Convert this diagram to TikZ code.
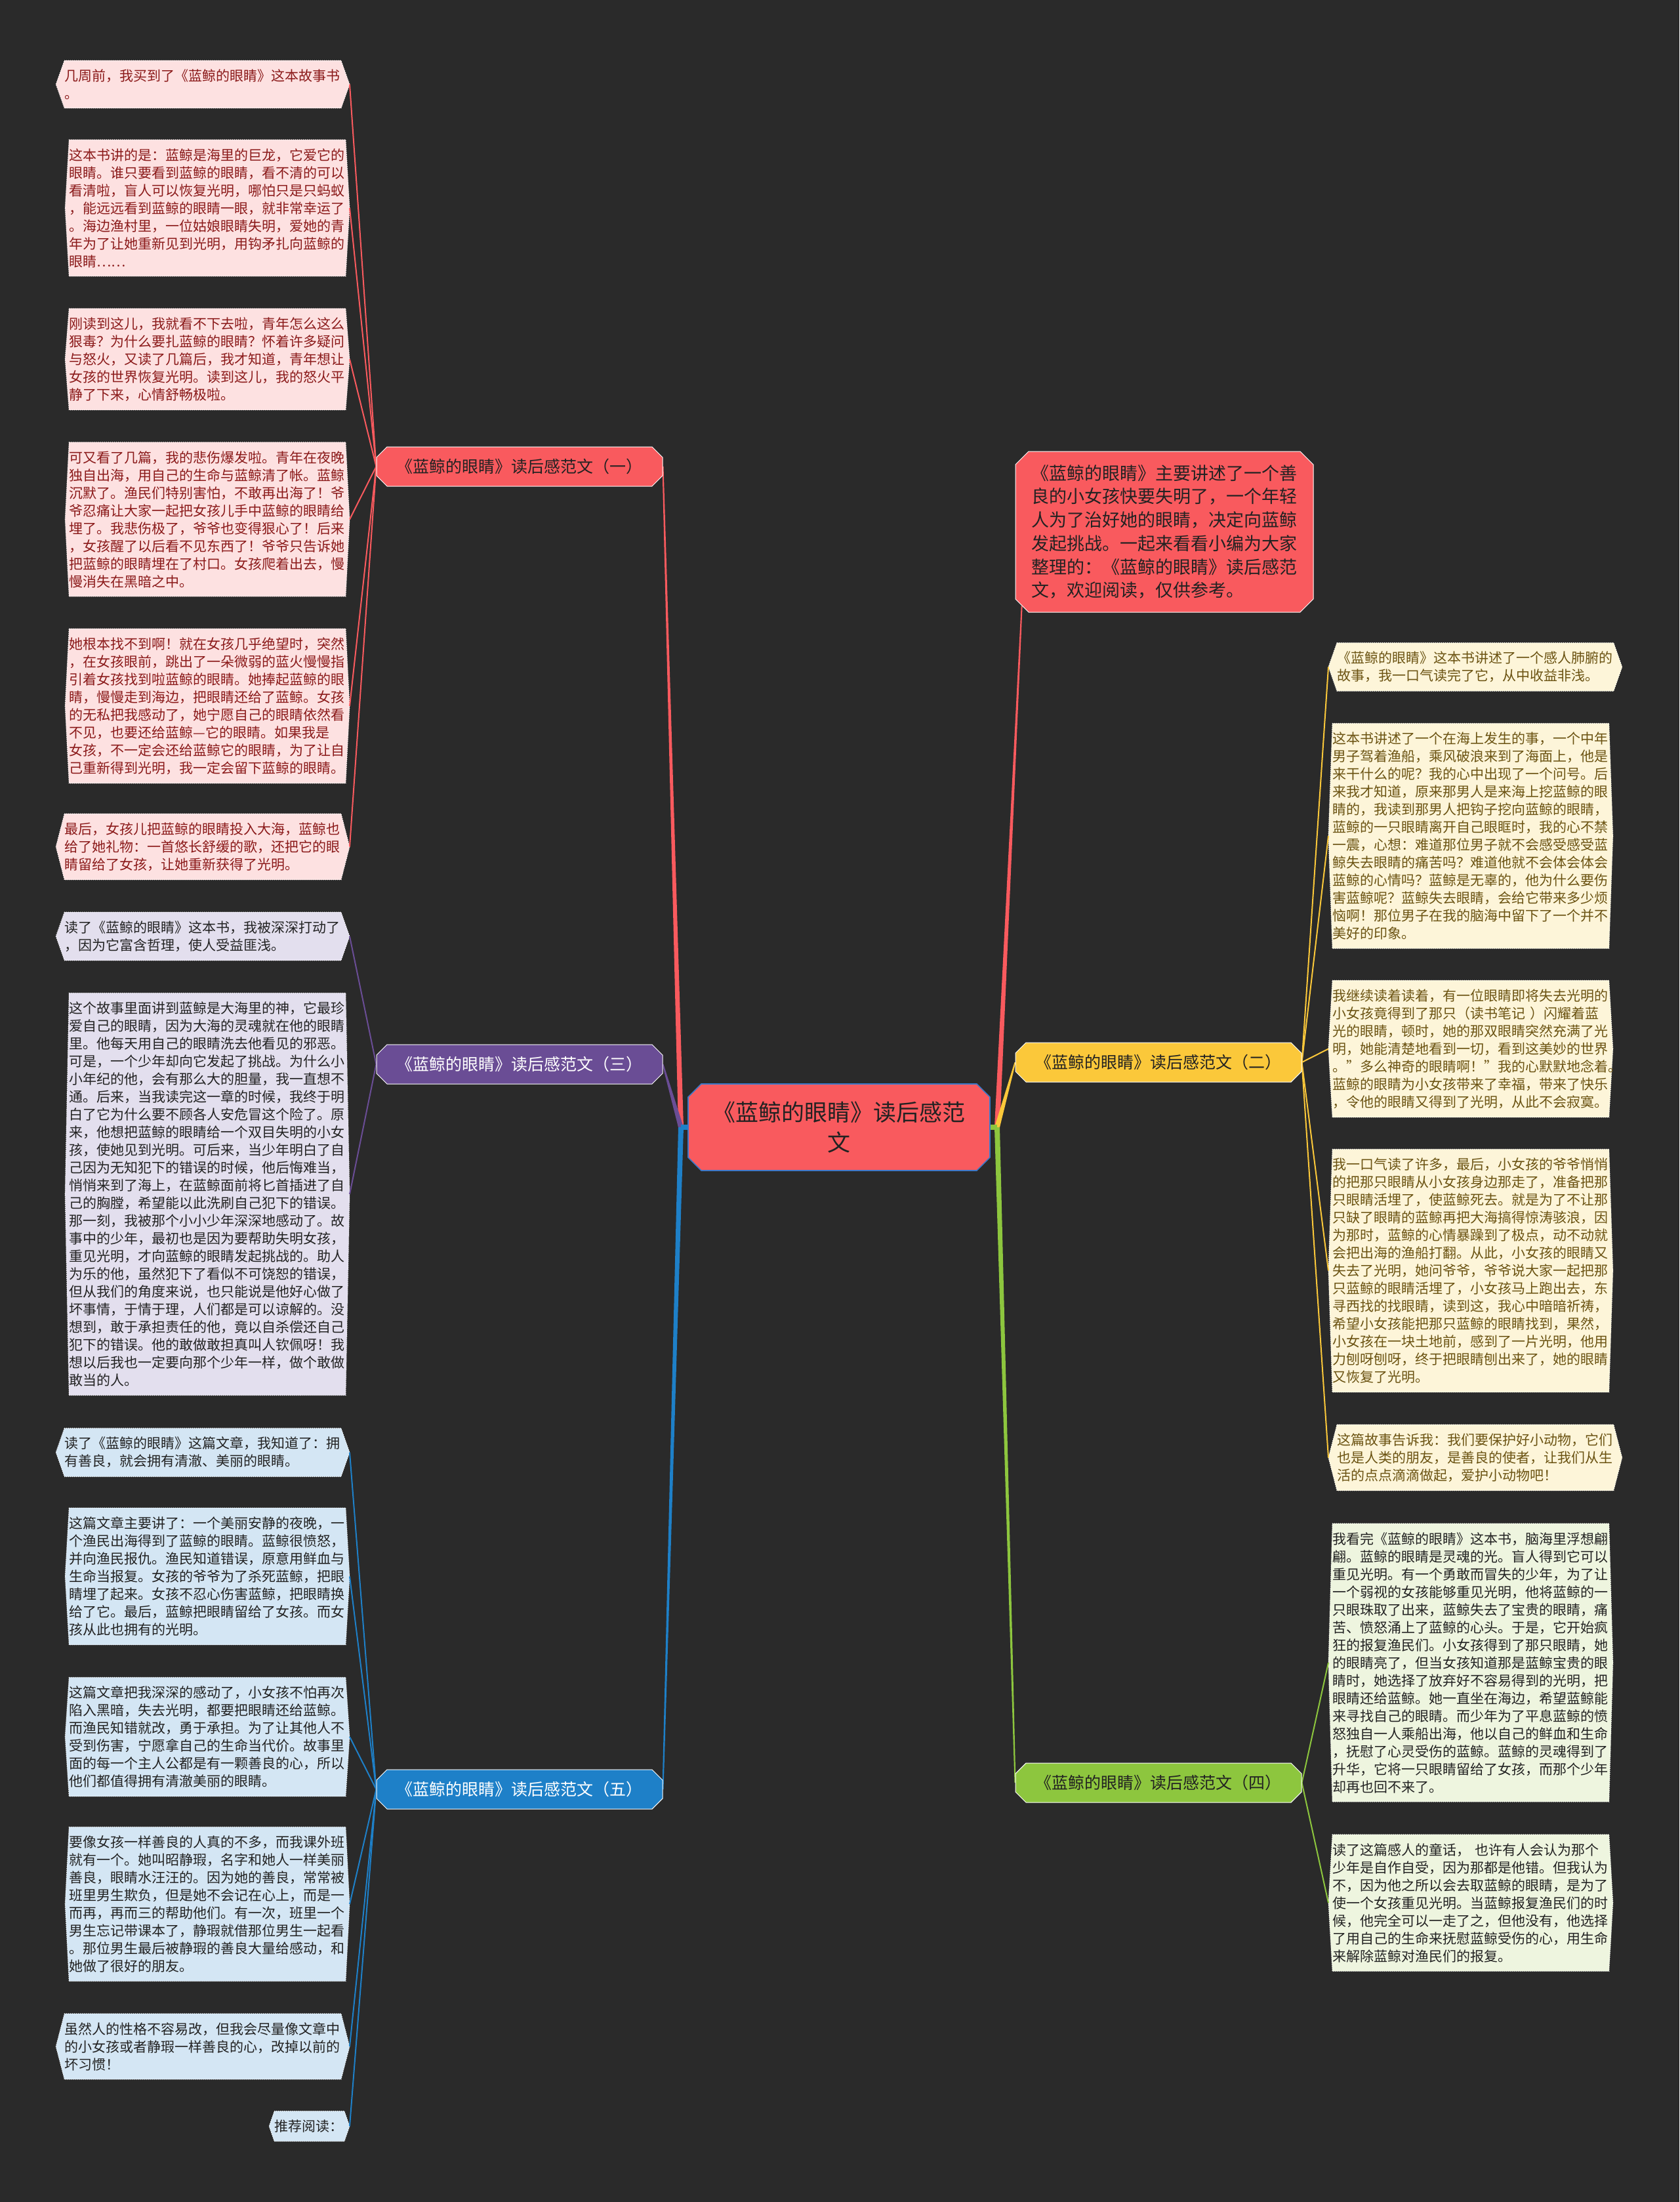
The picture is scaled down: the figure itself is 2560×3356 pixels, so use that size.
\documentclass[tikz,border=0pt]{standalone}
\usepackage{fontspec}
\setmainfont{Noto Sans CJK SC}
\usetikzlibrary{calc,shapes.misc}
\definecolor{bgc}{HTML}{2A2A2A}
\definecolor{redc}{HTML}{F95A5E}
\definecolor{purplec}{HTML}{6A4D95}
\definecolor{bluec}{HTML}{1E80C8}
\definecolor{yellowc}{HTML}{FBC83A}
\definecolor{greenc}{HTML}{8DC63E}
\definecolor{pinkfill}{HTML}{FDE1E1}
\definecolor{lavfill}{HTML}{E3DFEE}
\definecolor{skyfill}{HTML}{D4E6F4}
\definecolor{creamfill}{HTML}{FDF5D9}
\definecolor{mintfill}{HTML}{EEF5DF}
\definecolor{pinktxt}{HTML}{8B1A1A}
\definecolor{browntxt}{HTML}{6B5312}
\definecolor{darktxt}{HTML}{222222}
\definecolor{ctrline}{HTML}{3C78C8}
\pgfdeclarelayer{back}
\pgfsetlayers{back,main}
\newcommand\leaffont{\fontsize{10.5pt}{13.5pt}\selectfont}

\begin{document}
\begin{tikzpicture}[x=0.5pt, y=-0.5pt,
    leaf/.style={inner xsep=#1, inner ysep=6.5pt, text width=210.5pt, align=left, font=\leaffont},
    branch/.style={chamfered rectangle, chamfered rectangle xsep=4pt, chamfered rectangle ysep=4pt,
        minimum width=218pt, minimum height=30pt, inner sep=0pt, draw=white, line width=0.5pt,
        font=\fontsize{12.5pt}{15pt}\selectfont},
    leafedge/.style={draw=white, densely dotted, line width=0.5pt},
    twig/.style={line width=1pt}]
    \useasboundingbox (0,0) rectangle (2560,3356);
    \begin{pgfonlayer}{back}
        \fill[bgc] (0,0) rectangle (2560,3356);
    \end{pgfonlayer}

    % Centre and summary
    \node[chamfered rectangle, chamfered rectangle xsep=5pt, chamfered rectangle ysep=5pt,
        fill=redc, draw=ctrline, line width=0.8pt, minimum width=230pt, minimum height=66pt,
        inner sep=0pt, align=center, text=darktxt, font=\fontsize{17.5pt}{23pt}\selectfont]
        (ctr) at (1279,1718) {《蓝鲸的眼睛》读后感范\\文};
    \node[chamfered rectangle, chamfered rectangle xsep=5pt, chamfered rectangle ysep=5pt,
        fill=redc, draw=white, line width=0.5pt, minimum width=227pt, minimum height=122.5pt,
        inner sep=0pt, text width=203pt, align=left, text=darktxt,
        font=\fontsize{13.5pt}{17.85pt}\selectfont] (sum) at (1775,810.5)
        {《蓝鲸的眼睛》主要讲述了一个善\\良的小女孩快要失明了，一个年轻\\人为了治好她的眼睛，决定向蓝鲸\\发起挑战。一起来看看小编为大家\\整理的：《蓝鲸的眼睛》读后感范\\文，欢迎阅读，仅供参考。};

    % Branches
    \node[branch, fill=redc, text=darktxt] (b1) at (792,711) {《蓝鲸的眼睛》读后感范文（一）};
    \node[branch, fill=purplec, text=white] (b3) at (792,1622) {《蓝鲸的眼睛》读后感范文（三）};
    \node[branch, fill=bluec, text=white] (b5) at (792,2727) {《蓝鲸的眼睛》读后感范文（五）};
    \node[branch, fill=yellowc, text=darktxt] (b2) at (1766,1619) {《蓝鲸的眼睛》读后感范文（二）};
    \node[branch, fill=greenc, text=darktxt] (b4) at (1766,2717) {《蓝鲸的眼睛》读后感范文（四）};
    \coordinate (cl) at (1038,1718);
    \coordinate (cr) at (1520,1718);

    % Leaves of (一)
    \node[leaf=6.5pt, text=pinktxt, anchor=east] (l1) at (533,128.5)
        {几周前，我买到了《蓝鲸的眼睛》这本故事书\\。};
    \node[leaf=3pt, text=pinktxt, anchor=east] (l2) at (533,317)
        {这本书讲的是：蓝鲸是海里的巨龙，它爱它的\\眼睛。谁只要看到蓝鲸的眼睛，看不清的可以\\看清啦，盲人可以恢复光明，哪怕只是只蚂蚁\\，能远远看到蓝鲸的眼睛一眼，就非常幸运了\\。海边渔村里，一位姑娘眼睛失明，爱她的青\\年为了让她重新见到光明，用钩矛扎向蓝鲸的\\眼睛……};
    \node[leaf=3pt, text=pinktxt, anchor=east] (l3) at (533,547.5)
        {刚读到这儿，我就看不下去啦，青年怎么这么\\狠毒？为什么要扎蓝鲸的眼睛？怀着许多疑问\\与怒火，又读了几篇后，我才知道，青年想让\\女孩的世界恢复光明。读到这儿，我的怒火平\\静了下来，心情舒畅极啦。};
    \node[leaf=3pt, text=pinktxt, anchor=east] (l4) at (533,791.5)
        {可又看了几篇，我的悲伤爆发啦。青年在夜晚\\独自出海，用自己的生命与蓝鲸清了帐。蓝鲸\\沉默了。渔民们特别害怕，不敢再出海了！爷\\爷忍痛让大家一起把女孩儿手中蓝鲸的眼睛给\\埋了。我悲伤极了，爷爷也变得狠心了！后来\\，女孩醒了以后看不见东西了！爷爷只告诉她\\把蓝鲸的眼睛埋在了村口。女孩爬着出去，慢\\慢消失在黑暗之中。};
    \node[leaf=3pt, text=pinktxt, anchor=east] (l5) at (533,1076)
        {她根本找不到啊！就在女孩几乎绝望时，突然\\，在女孩眼前，跳出了一朵微弱的蓝火慢慢指\\引着女孩找到啦蓝鲸的眼睛。她捧起蓝鲸的眼\\睛，慢慢走到海边，把眼睛还给了蓝鲸。女孩\\的无私把我感动了，她宁愿自己的眼睛依然看\\不见，也要还给蓝鲸—它的眼睛。如果我是\\女孩，不一定会还给蓝鲸它的眼睛，为了让自\\己重新得到光明，我一定会留下蓝鲸的眼睛。};
    \node[leaf=6.5pt, text=pinktxt, anchor=east] (l6) at (533,1290.5)
        {最后，女孩儿把蓝鲸的眼睛投入大海，蓝鲸也\\给了她礼物：一首悠长舒缓的歌，还把它的眼\\睛留给了女孩，让她重新获得了光明。};

    % Leaves of (三)
    \node[leaf=6.5pt, text=darktxt, anchor=east] (l7) at (533,1427)
        {读了《蓝鲸的眼睛》这本书，我被深深打动了\\，因为它富含哲理，使人受益匪浅。};
    \node[leaf=3pt, text=darktxt, anchor=east] (l8) at (533,1820)
        {这个故事里面讲到蓝鲸是大海里的神，它最珍\\爱自己的眼睛，因为大海的灵魂就在他的眼睛\\里。他每天用自己的眼睛洗去他看见的邪恶。\\可是，一个少年却向它发起了挑战。为什么小\\小年纪的他，会有那么大的胆量，我一直想不\\通。后来，当我读完这一章的时候，我终于明\\白了它为什么要不顾各人安危冒这个险了。原\\来，他想把蓝鲸的眼睛给一个双目失明的小女\\孩，使她见到光明。可后来，当少年明白了自\\己因为无知犯下的错误的时候，他后悔难当，\\悄悄来到了海上，在蓝鲸面前将匕首插进了自\\己的胸膛，希望能以此洗刷自己犯下的错误。\\那一刻，我被那个小小少年深深地感动了。故\\事中的少年，最初也是因为要帮助失明女孩，\\重见光明，才向蓝鲸的眼睛发起挑战的。助人\\为乐的他，虽然犯下了看似不可饶恕的错误，\\但从我们的角度来说，也只能说是他好心做了\\坏事情，于情于理，人们都是可以谅解的。没\\想到，敢于承担责任的他，竟以自杀偿还自己\\犯下的错误。他的敢做敢担真叫人钦佩呀！我\\想以后我也一定要向那个少年一样，做个敢做\\敢当的人。};

    % Leaves of (五)
    \node[leaf=6.5pt, text=darktxt, anchor=east] (l9) at (533,2213.5)
        {读了《蓝鲸的眼睛》这篇文章，我知道了：拥\\有善良，就会拥有清澈、美丽的眼睛。};
    \node[leaf=3pt, text=darktxt, anchor=east] (l10) at (533,2402.5)
        {这篇文章主要讲了：一个美丽安静的夜晚，一\\个渔民出海得到了蓝鲸的眼睛。蓝鲸很愤怒，\\并向渔民报仇。渔民知道错误，原意用鲜血与\\生命当报复。女孩的爷爷为了杀死蓝鲸，把眼\\睛埋了起来。女孩不忍心伤害蓝鲸，把眼睛换\\给了它。最后，蓝鲸把眼睛留给了女孩。而女\\孩从此也拥有的光明。};
    \node[leaf=3pt, text=darktxt, anchor=east] (l11) at (533,2647)
        {这篇文章把我深深的感动了，小女孩不怕再次\\陷入黑暗，失去光明，都要把眼睛还给蓝鲸。\\而渔民知错就改，勇于承担。为了让其他人不\\受到伤害，宁愿拿自己的生命当代价。故事里\\面的每一个主人公都是有一颗善良的心，所以\\他们都值得拥有清澈美丽的眼睛。};
    \node[leaf=3pt, text=darktxt, anchor=east] (l12) at (533,2902)
        {要像女孩一样善良的人真的不多，而我课外班\\就有一个。她叫昭静瑕，名字和她人一样美丽\\善良，眼睛水汪汪的。因为她的善良，常常被\\班里男生欺负，但是她不会记在心上，而是一\\而再，再而三的帮助他们。有一次，班里一个\\男生忘记带课本了，静瑕就借那位男生一起看\\。那位男生最后被静瑕的善良大量给感动，和\\她做了很好的朋友。};
    \node[leaf=6.5pt, text=darktxt, anchor=east] (l13) at (533,3119)
        {虽然人的性格不容易改，但我会尽量像文章中\\的小女孩或者静瑕一样善良的心，改掉以前的\\坏习惯！};
    \node[leaf=4pt, text width=53pt, text=darktxt, anchor=east] (l14) at (533,3240.5) {推荐阅读：};

    % Leaves of (二)
    \node[leaf=6.5pt, text=browntxt, anchor=west] (r1) at (2025,1016.5)
        {《蓝鲸的眼睛》这本书讲述了一个感人肺腑的\\故事，我一口气读完了它，从中收益非浅。};
    \node[leaf=3pt, text=browntxt, anchor=west] (r2) at (2025,1274)
        {这本书讲述了一个在海上发生的事，一个中年\\男子驾着渔船，乘风破浪来到了海面上，他是\\来干什么的呢？我的心中出现了一个问号。后\\来我才知道，原来那男人是来海上挖蓝鲸的眼\\睛的，我读到那男人把钩子挖向蓝鲸的眼睛，\\蓝鲸的一只眼睛离开自己眼眶时，我的心不禁\\一震，心想：难道那位男子就不会感受感受蓝\\鲸失去眼睛的痛苦吗？难道他就不会体会体会\\蓝鲸的心情吗？蓝鲸是无辜的，他为什么要伤\\害蓝鲸呢？蓝鲸失去眼睛，会给它带来多少烦\\恼啊！那位男子在我的脑海中留下了一个并不\\美好的印象。};
    \node[leaf=3pt, text=browntxt, anchor=west] (r3) at (2025,1598.5)
        {我继续读着读着，有一位眼睛即将失去光明的\\小女孩竟得到了那只（读书笔记 ）闪耀着蓝\\光的眼睛，顿时，她的那双眼睛突然充满了光\\明，她能清楚地看到一切，看到这美妙的世界\\。"多么神奇的眼睛啊！"我的心默默地念着。\\蓝鲸的眼睛为小女孩带来了幸福，带来了快乐\\，令他的眼睛又得到了光明，从此不会寂寞。};
    \node[leaf=3pt, text=browntxt, anchor=west] (r4) at (2025,1936.5)
        {我一口气读了许多，最后，小女孩的爷爷悄悄\\的把那只眼睛从小女孩身边那走了，准备把那\\只眼睛活埋了，使蓝鲸死去。就是为了不让那\\只缺了眼睛的蓝鲸再把大海搞得惊涛骇浪，因\\为那时，蓝鲸的心情暴躁到了极点，动不动就\\会把出海的渔船打翻。从此，小女孩的眼睛又\\失去了光明，她问爷爷，爷爷说大家一起把那\\只蓝鲸的眼睛活埋了，小女孩马上跑出去，东\\寻西找的找眼睛，读到这，我心中暗暗祈祷，\\希望小女孩能把那只蓝鲸的眼睛找到，果然，\\小女孩在一块土地前，感到了一片光明，他用\\力刨呀刨呀，终于把眼睛刨出来了，她的眼睛\\又恢复了光明。};
    \node[leaf=6.5pt, text=browntxt, anchor=west] (r5) at (2025,2221.5)
        {这篇故事告诉我：我们要保护好小动物，它们\\也是人类的朋友，是善良的使者，让我们从生\\活的点点滴滴做起，爱护小动物吧！};

    % Leaves of (四)
    \node[leaf=3pt, text=darktxt, anchor=west] (r6) at (2025,2534)
        {我看完《蓝鲸的眼睛》这本书，脑海里浮想翩\\翩。蓝鲸的眼睛是灵魂的光。盲人得到它可以\\重见光明。有一个勇敢而冒失的少年，为了让\\一个弱视的女孩能够重见光明，他将蓝鲸的一\\只眼珠取了出来，蓝鲸失去了宝贵的眼睛，痛\\苦、愤怒涌上了蓝鲸的心头。于是，它开始疯\\狂的报复渔民们。小女孩得到了那只眼睛，她\\的眼睛亮了，但当女孩知道那是蓝鲸宝贵的眼\\睛时，她选择了放弃好不容易得到的光明，把\\眼睛还给蓝鲸。她一直坐在海边，希望蓝鲸能\\来寻找自己的眼睛。而少年为了平息蓝鲸的愤\\怒独自一人乘船出海，他以自己的鲜血和生命\\，抚慰了心灵受伤的蓝鲸。蓝鲸的灵魂得到了\\升华，它将一只眼睛留给了女孩，而那个少年\\却再也回不来了。};
    \node[leaf=3pt, text=darktxt, anchor=west] (r7) at (2025,2900)
        {读了这篇感人的童话， 也许有人会认为那个\\少年是自作自受，因为那都是他错。但我认为\\不，因为他之所以会去取蓝鲸的眼睛，是为了\\使一个女孩重见光明。当蓝鲸报复渔民们的时\\候，他完全可以一走了之，但他没有，他选择\\了用自己的生命来抚慰蓝鲸受伤的心，用生命\\来解除蓝鲸对渔民们的报复。};

    \begin{pgfonlayer}{back}
        % Leaf outlines, pointed at both ends
        \foreach \n/\d/\c in {l1/6.5pt/pinkfill, l2/3pt/pinkfill, l3/3pt/pinkfill, l4/3pt/pinkfill,
                l5/3pt/pinkfill, l6/6.5pt/pinkfill, l7/6.5pt/lavfill, l8/3pt/lavfill,
                l9/6.5pt/skyfill, l10/3pt/skyfill, l11/3pt/skyfill, l12/3pt/skyfill,
                l13/6.5pt/skyfill, l14/4pt/skyfill, r1/6.5pt/creamfill, r2/3pt/creamfill,
                r3/3pt/creamfill, r4/3pt/creamfill, r5/6.5pt/creamfill, r6/3pt/mintfill, r7/3pt/mintfill}
            \filldraw[fill=\c, leafedge] ($(\n.north west)+(\d,0)$) -- ($(\n.north east)+(-\d,0)$)
                -- (\n.east) -- ($(\n.south east)+(-\d,0)$) -- ($(\n.south west)+(\d,0)$)
                -- (\n.west) -- cycle;
        % Tapered main connectors
        \foreach \b/\c in {b1/redc, b3/purplec, b5/bluec}
            \fill[\c] ($(cl)+(-4,0)$) -- ($(\b.east)+(-1,0)$) -- ($(\b.east)+(1,0)$) -- ($(cl)+(4,0)$) -- cycle;
        \draw[bluec, line width=4pt] (cl) -- (ctr.west);
        \fill[redc] ($(cr)+(-4,0)$) -- ($(sum.south west)+(-1,0)$) -- ($(sum.south west)+(1,0)$) -- ($(cr)+(4,0)$) -- cycle;
        \foreach \b/\c in {b2/yellowc, b4/greenc}
            \fill[\c] ($(cr)+(-4,0)$) -- ($(\b.west)+(-1,0)$) -- ($(\b.west)+(1,0)$) -- ($(cr)+(4,0)$) -- cycle;
        \draw[greenc, line width=4pt] (ctr.east) -- (cr);
        % Twigs to leaves
        \foreach \l in {l1,l2,l3,l4,l5,l6} \draw[twig, redc] (b1.west) -- (\l.east);
        \foreach \l in {l7,l8} \draw[twig, purplec] (b3.west) -- (\l.east);
        \foreach \l in {l9,l10,l11,l12,l13,l14} \draw[twig, bluec] (b5.west) -- (\l.east);
        \foreach \r in {r1,r2,r3,r4,r5} \draw[twig, yellowc] (b2.east) -- (\r.west);
        \foreach \r in {r6,r7} \draw[twig, greenc] (b4.east) -- (\r.west);
    \end{pgfonlayer}
\end{tikzpicture}
\end{document}
